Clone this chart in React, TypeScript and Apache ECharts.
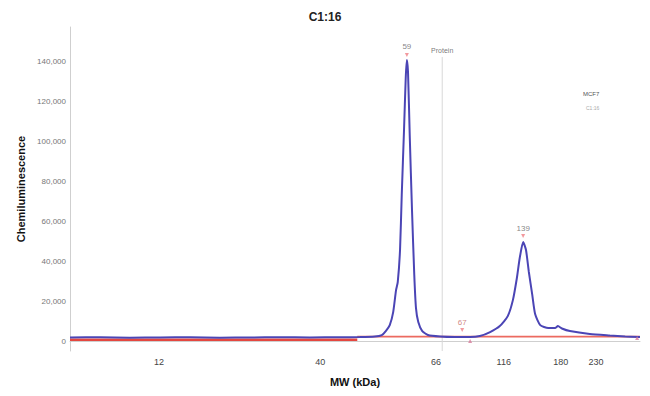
import React, { useEffect, useRef } from "react";
import * as echarts from "echarts";

// Migration position (0–100 across the plot) and chemiluminescence signal
const tracePos = [0, 5.3, 10.5, 15.8, 21.1, 26.3, 31.6, 36.8, 42.1, 47.4, 50.9, 53.5, 54.7, 55.4, 56.1, 56.7, 57.2, 57.5, 57.9, 58.2, 58.6, 58.9, 59.1, 59.3, 59.6, 60.0, 60.4, 60.7, 61.1, 61.8, 62.8, 64.9, 67.5, 70.2, 71.9, 73.7, 75.4, 76.8, 77.7, 78.4, 78.9, 79.5, 80.0, 80.5, 81.1, 81.6, 82.5, 83.9, 85.1, 85.6, 86.3, 87.7, 91.2, 94.7, 97.4, 100];
const traceVal = [1800, 1900, 1700, 1800, 1900, 1700, 1800, 1900, 1800, 1900, 2000, 2300, 3000, 5000, 8000, 14500, 25500, 29500, 45600, 73200, 105800, 131800, 140900, 134800, 103300, 65700, 33100, 16500, 9500, 5000, 3000, 2250, 2000, 2000, 2500, 4500, 7500, 12500, 20500, 31600, 41600, 49600, 45600, 34600, 23100, 13500, 8000, 6500, 6500, 7500, 6300, 5000, 3500, 2750, 2250, 2000];

const baseLeftPos = [0, 50.4];
const baseLeftVal = [700, 700];
const baseRightPos = [50.4, 100];
const baseRightVal = [2200, 2200];

const peakLabels = ["59", "139", "67"];
const peakPos = [59.1, 79.5, 68.8];
const peakVal = [143400, 52600, 5500];

const extraMarkPos = [70.2, 99.5];
const extraMarkVal = [0, 1500];

const proteinPos = 65.3;
const proteinTop = 142400;

const mwLabels = ["12", "40", "66", "116", "180", "230"];
const mwPositions = [15.6, 43.9, 64.2, 76.1, 86.1, 92.3];

const yTicks = [0, 20000, 40000, 60000, 80000, 100000, 120000, 140000];

const FONT = "Liberation Sans, Arial, sans-serif";

export default function App() {
  const ref = useRef<HTMLDivElement>(null);
  useEffect(() => {
    if (!ref.current) return;
    document.body.style.margin = "0";
    const chart = echarts.init(ref.current, null, { renderer: "svg" });
    const pair = (xs: number[], ys: number[]) => xs.map((x, i) => [x, ys[i]]);
    chart.setOption({
      animation: false,
      textStyle: { fontFamily: FONT },
      title: {
        text: "C1:16",
        left: "center",
        top: 6,
        textStyle: { fontSize: 12, fontWeight: "bold", color: "#222", fontFamily: FONT },
      },
      grid: { left: 70, right: 10, top: 27, bottom: 45 },
      xAxis: {
        type: "value",
        min: 0,
        max: 100,
        name: "MW (kDa)",
        nameLocation: "middle",
        nameGap: 25,
        nameTextStyle: { fontSize: 11, fontWeight: "bold", color: "#111" },
        axisLine: { show: true, lineStyle: { color: "#cfcfcf", width: 1 } },
        axisTick: { show: false },
        splitLine: { show: false },
        axisLabel: {
          customValues: mwPositions,
          formatter: (v: number) => {
            const i = mwPositions.findIndex((p) => Math.abs(p - v) < 1e-6);
            return i >= 0 ? mwLabels[i] : "";
          },
          fontSize: 9,
          color: "#444",
          margin: 6,
        },
      },
      yAxis: {
        type: "value",
        min: -5000,
        max: 157400,
        name: "Chemiluminescence",
        nameLocation: "middle",
        nameGap: 44,
        nameTextStyle: { fontSize: 11, fontWeight: "bold", color: "#111" },
        axisLine: { show: true, lineStyle: { color: "#cfcfcf", width: 1 } },
        axisTick: { show: false },
        splitLine: { show: false },
        axisLabel: {
          customValues: yTicks,
          formatter: (v: number) => v.toLocaleString("en-US"),
          fontSize: 8,
          color: "#777",
          margin: 4,
        },
      },
      series: [
        {
          name: "Protein",
          type: "line",
          data: [
            [proteinPos, -5000],
            [proteinPos, proteinTop],
          ],
          symbol: "none",
          lineStyle: { color: "#d8d8d8", width: 1 },
          z: 1,
        },
        {
          name: "Protein-label",
          type: "scatter",
          data: [[proteinPos, proteinTop]],
          symbolSize: 0,
          label: { show: true, position: "top", formatter: "Protein", fontSize: 7, color: "#555", distance: 3 },
          z: 1,
        },
        {
          name: "baseline-left",
          type: "line",
          data: pair(baseLeftPos, baseLeftVal),
          symbol: "none",
          lineStyle: { color: "#e5473f", width: 2.5 },
          z: 2,
        },
        {
          name: "baseline-right",
          type: "line",
          data: pair(baseRightPos, baseRightVal),
          symbol: "none",
          lineStyle: { color: "#ec6a60", width: 1.8 },
          z: 2,
        },
        {
          name: "MCF7",
          type: "line",
          data: pair(tracePos, traceVal),
          symbol: "none",
          smooth: 0.2,
          lineStyle: { color: "#4b45b5", width: 2 },
          z: 3,
        },
        {
          name: "peaks",
          type: "scatter",
          data: peakPos.map((p, i) => ({
            value: [p, peakVal[i]],
            label: {
              show: true,
              position: "top",
              formatter: peakLabels[i],
              fontSize: 8,
              distance: 2,
              color: i === 2 ? "#c46a64" : "#666",
            },
          })),
          symbol: "triangle",
          symbolRotate: 180,
          symbolSize: 4,
          itemStyle: { color: "#ef7f86" },
          z: 4,
        },
        {
          name: "marks",
          type: "scatter",
          data: pair(extraMarkPos, extraMarkVal),
          symbol: "triangle",
          symbolSize: 4,
          itemStyle: { color: "#d77a9a" },
          z: 4,
        },
      ],
      graphic: [
        { type: "text", left: 583, top: 91, style: { text: "MCF7", fontSize: 6, fill: "#555", fontFamily: FONT } },
        { type: "text", left: 586, top: 105, style: { text: "C1:16", fontSize: 5, fill: "#aaa", fontFamily: FONT } },
      ],
    });
    return () => chart.dispose();
  }, []);
  return <div ref={ref} style={{ width: 650, height: 396 }} />;
}
